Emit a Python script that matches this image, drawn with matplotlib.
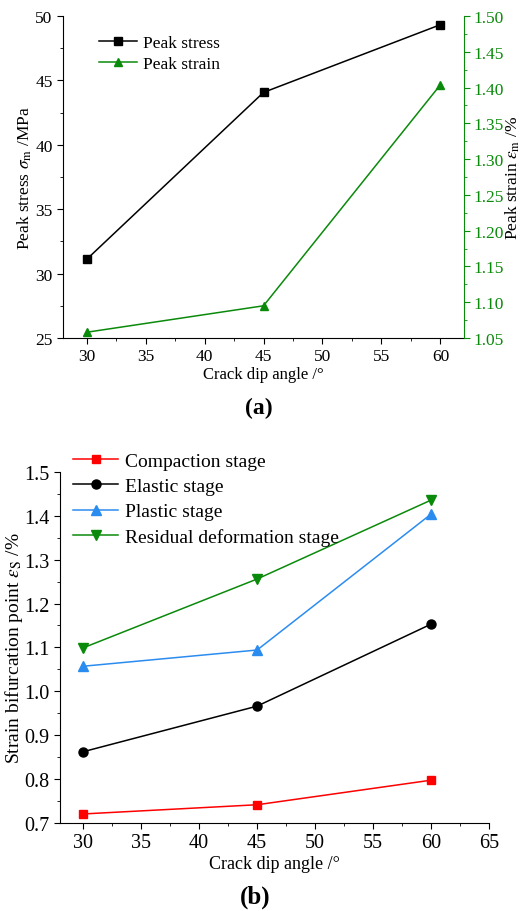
import numpy as np
import matplotlib.pyplot as plt
from matplotlib.ticker import MultipleLocator

plt.rcParams['font.family'] = ['Liberation Serif', 'DejaVu Serif']
plt.rcParams['mathtext.fontset'] = 'stix'

# data (a)
angles = [30, 45, 60]
peak_stress = [31.1, 44.07, 49.33]
peak_strain = [1.058, 1.095, 1.404]

# data (b)
compaction = [0.720, 0.741, 0.797]
elastic = [0.862, 0.966, 1.153]
plastic = [1.057, 1.094, 1.404]
residual = [1.099, 1.256, 1.436]

green = '#0a8a0a'

fig = plt.figure(figsize=(5.27, 9.12), dpi=100)

# ---- (a) ----
ax1 = fig.add_axes([0.1195, 0.6283, 0.761, 0.353])
ax2 = ax1.twinx()
l1, = ax1.plot(angles, peak_stress, '-s', color='black', lw=1.1, ms=5.5, label='Peak stress')
l2, = ax2.plot(angles, peak_strain, '-^', color=green, lw=1.1, ms=6, label='Peak strain')

ax1.set_xlim(28, 62)
ax1.set_ylim(25, 50)
ax2.set_ylim(1.05, 1.50)
ax1.xaxis.set_major_locator(MultipleLocator(5))
ax1.xaxis.set_minor_locator(MultipleLocator(2.5))
ax1.yaxis.set_major_locator(MultipleLocator(5))
ax1.yaxis.set_minor_locator(MultipleLocator(2.5))
ax2.yaxis.set_major_locator(MultipleLocator(0.05))
ax2.yaxis.set_minor_locator(MultipleLocator(0.025))
ax2.yaxis.set_major_formatter(plt.FormatStrFormatter('%.2f'))

for a in (ax1, ax2):
    a.spines['top'].set_visible(False)
ax1.spines['right'].set_visible(False)
ax2.spines['left'].set_visible(False)
ax2.spines['bottom'].set_visible(False)
ax2.spines['right'].set_color(green)

ax1.tick_params(which='major', direction='out', length=4, labelsize=12.5)
ax1.tick_params(which='minor', direction='out', length=2.2)
ax2.tick_params(which='major', direction='out', length=4, labelsize=12.5, colors=green, pad=2.5)
ax2.tick_params(which='minor', direction='out', length=2.2, colors=green)

ax1.set_xlabel('Crack dip angle /°', fontsize=12, labelpad=1)
ax1.set_ylabel(r'Peak stress $\sigma_{\rm m}$ /MPa', fontsize=12.5, va='center')
ax1.yaxis.set_label_coords(-0.095, 0.5)
ax2.set_ylabel(r'Peak strain $\varepsilon_{\rm m}$ /%', fontsize=12.5, va='center')
ax2.yaxis.set_label_coords(1.122, 0.5)

ax1.legend(handles=[l1, l2], loc='upper left', bbox_to_anchor=(0.05, 0.99),
           frameon=False, fontsize=12.5, handlelength=2.2, handletextpad=0.35,
           labelspacing=0.3)

fig.text(0.492, 1 - 408 / 912, '(a)', ha='center', va='center',
         fontsize=17, fontweight='bold')

# ---- (b) ----
ax3 = fig.add_axes([0.1139, 0.0968, 0.814, 0.3845])
ax3.plot(angles, compaction, '-s', color='#ff0000', lw=1.1, ms=6, label='Compaction stage')
ax3.plot(angles, elastic, '-o', color='black', lw=1.1, ms=6.5, label='Elastic stage')
ax3.plot(angles, plastic, '-^', color='#2b8cf0', lw=1.1, ms=7, label='Plastic stage')
ax3.plot(angles, residual, '-v', color=green, lw=1.1, ms=7, label='Residual deformation stage')

ax3.set_xlim(28, 65)
ax3.set_ylim(0.7, 1.5)
ax3.xaxis.set_major_locator(MultipleLocator(5))
ax3.xaxis.set_minor_locator(MultipleLocator(2.5))
ax3.yaxis.set_major_locator(MultipleLocator(0.1))
ax3.yaxis.set_minor_locator(MultipleLocator(0.05))
ax3.yaxis.set_major_formatter(plt.FormatStrFormatter('%.1f'))
ax3.spines['top'].set_visible(False)
ax3.spines['right'].set_visible(False)
ax3.tick_params(which='major', direction='out', length=4, labelsize=14.5)
ax3.tick_params(which='minor', direction='out', length=2.2)

ax3.set_xlabel('Crack dip angle /°', fontsize=13, labelpad=2)
ax3.set_ylabel(r'Strain bifurcation point $\varepsilon_{\rm S}$ /%', fontsize=14, va='center')
ax3.yaxis.set_label_coords(-0.108, 0.5)

ax3.legend(loc='upper left', bbox_to_anchor=(-0.01, 1.107), frameon=False,
           fontsize=14, handlelength=2.3, handletextpad=0.35, labelspacing=0.4)

fig.text(0.484, 1 - 897 / 912, '(b)', ha='center', va='center',
         fontsize=18, fontweight='bold')

fig.savefig('out.png', dpi=100)
